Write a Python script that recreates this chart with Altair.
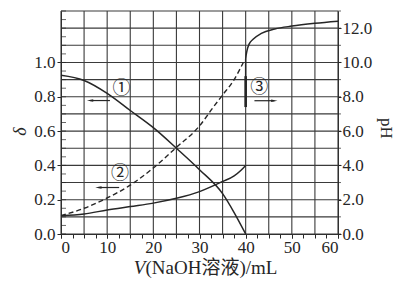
import altair as alt
import pandas as pd

# ---- data ----
# curve ① (δ, left axis, solid)
v_c1 = [0, 5, 10, 15, 20, 25, 30, 35, 37.5, 40]
d_c1 = [0.925, 0.895, 0.82, 0.72, 0.62, 0.50, 0.375, 0.235, 0.125, 0.0]
# curve ② (δ, left axis, dashed)
v_c2 = [0, 5, 10, 15, 20, 25, 30, 33, 35, 37.5, 39.5]
d_c2 = [0.107, 0.15, 0.21, 0.285, 0.385, 0.505, 0.63, 0.74, 0.81, 0.90, 1.0]
# curve ③ (pH, right axis) before the jump
v_ph_lo = [0, 5, 10, 15, 20, 25, 30, 35, 37.5, 39, 40]
ph_lo = [1.07, 1.17, 1.40, 1.60, 1.80, 2.08, 2.47, 3.06, 3.39, 3.72, 4.0]
# curve ③ after the jump
v_ph_hi = [40, 40, 40.3, 40.8, 41.6, 43.4, 46.3, 50, 55, 60]
ph_hi = [7.4, 10.2, 10.7, 11.1, 11.35, 11.7, 11.95, 12.12, 12.28, 12.4]
# thick part of the vertical jump
jump_v = [40]
jump_lo = [7.4]
jump_hi = [9.2]

# annotations
lab_txt = ["①", "②"]
lab_v = [13.1, 12.8]
lab_d = [0.845, 0.35]
arr_v1 = [10.6, 12.6]
arr_v2 = [6.3, 8.1]
arr_d = [0.778, 0.271]
lab3_txt = ["③"]
lab3_v = [42.95]
lab3_ph = [8.5]
arr3_v1 = [41.9]
arr3_v2 = [46.2]
arr3_ph = [7.77]

# grid / tick values
grid_v = list(range(0, 65, 5))
grid_d = [i / 10 for i in range(14)]
x_labels = list(range(0, 70, 10))
x_minor = [i * 2.5 for i in range(25)]
d_labels = [0.0, 0.2, 0.4, 0.6, 0.8, 1.0]
d_minor = [round(i * 0.05, 2) for i in range(27)]
ph_labels = [0, 2, 4, 6, 8, 10, 12]
ph_minor = list(range(0, 14))

FONT = "Liberation Serif"
CJK = "'Liberation Serif', 'Noto Sans CJK SC'"
INK = "#262626"
GRID = "#3a3a3a"

xs = alt.Scale(domain=[0, 60], nice=False, zero=False)
ds = alt.Scale(domain=[0, 1.3], nice=False)
ps = alt.Scale(domain=[0, 13], nice=False)

x_axis = alt.Axis(
    orient="bottom", values=x_labels, grid=False, format="d",
    labelOverlap=False, labelFont=FONT, labelFontSize=17, labelColor=INK,
    labelPadding=1, tickSize=4, tickColor=INK, domainColor=INK,
    title="(NaOH溶液)/mL", titleFont=CJK, titleFontSize=19,
    titleFontWeight="normal", titleColor=INK, titleX=150, titleY=39,
    titleBaseline="alphabetic", titleAlign="center",
)
x_axis_v = alt.Axis(
    orient="bottom", values=x_minor, labels=False, ticks=True, tickSize=4,
    tickColor=INK, domain=False, grid=False,
    title="V", titleFont=FONT, titleFontSize=19, titleFontStyle="italic",
    titleFontWeight="normal", titleColor=INK, titleX=78, titleY=39,
    titleBaseline="alphabetic", titleAlign="center",
)
d_axis = alt.Axis(
    orient="left", values=d_labels, grid=False, format=".1f",
    labelOverlap=False, labelFont=FONT, labelFontSize=17, labelColor=INK,
    labelPadding=2, tickSize=4, tickColor=INK, domainColor=INK,
    title="δ", titleFont=FONT, titleFontSize=18, titleFontStyle="italic",
    titleFontWeight="normal", titleColor=INK, titlePadding=4, titleY=120,
)
p_axis = alt.Axis(
    orient="right", values=ph_labels, grid=False, format=".1f",
    labelOverlap=False, labelSeparation=0, labelFont=FONT, labelFontSize=17,
    labelColor=INK, labelPadding=1, tickSize=3, tickColor=INK, domainColor=INK,
    title="pH", titleFont=FONT, titleFontSize=17, titleFontWeight="normal",
    titleColor=INK, titlePadding=5, titleY=117,
)


def XL(f):
    return alt.X(f, type="quantitative", scale=xs, axis=x_axis)


def YL(f):
    return alt.Y(f, type="quantitative", scale=ds, axis=d_axis)


def XR(f):
    return alt.X(f, type="quantitative", scale=xs, axis=x_axis_v)


def YR(f):
    return alt.Y(f, type="quantitative", scale=ps, axis=p_axis)


# ---- left (δ) layer ----
gv = alt.Chart(pd.DataFrame({"v": grid_v})).mark_rule(color=GRID, strokeWidth=1.1).encode(
    x=XL("v"))
gh = alt.Chart(pd.DataFrame({"d": grid_d})).mark_rule(color=GRID, strokeWidth=1.1).encode(
    y=YL("d"))
dmin = alt.Chart(pd.DataFrame({"d": d_minor, "v": [0] * len(d_minor)})).mark_tick(
    orient="horizontal", color=INK, size=5, thickness=1, xOffset=2.5).encode(
    x=XL("v"), y=YL("d"))
c1 = alt.Chart(pd.DataFrame({"v": v_c1, "d": d_c1})).mark_line(
    color=INK, strokeWidth=1.5, interpolate="monotone").encode(x=XL("v"), y=YL("d"))
c2 = alt.Chart(pd.DataFrame({"v": v_c2, "d": d_c2})).mark_line(
    color=INK, strokeWidth=1.4, strokeDash=[5, 3], interpolate="monotone").encode(
    x=XL("v"), y=YL("d"))
ann = pd.DataFrame({"t": lab_txt, "v": lab_v, "d": lab_d})
labs = alt.Chart(ann).mark_text(font="Noto Sans CJK SC", fontSize=18, color=INK).encode(
    x=XL("v"), y=YL("d"), text="t:N")
arr = pd.DataFrame({"v1": arr_v1, "v2": arr_v2, "d": arr_d})
arr_line = alt.Chart(arr).mark_rule(color=INK, strokeWidth=1.2).encode(
    x=XL("v1"), x2="v2:Q", y=YL("d"))
arr_head = alt.Chart(arr).mark_point(
    shape="M-1,0L1,-0.4L1,0.4Z", filled=True, color=INK, opacity=1, size=40).encode(
    x=XL("v2"), y=YL("d"))

left = alt.layer(gv, gh, dmin, c1, c2, labs, arr_line, arr_head)

# ---- right (pH) layer ----
p_lo = alt.Chart(pd.DataFrame({"v": v_ph_lo, "p": ph_lo})).mark_line(
    color=INK, strokeWidth=1.5, interpolate="monotone").encode(x=XR("v"), y=YR("p"))
p_hi = alt.Chart(pd.DataFrame({"v": v_ph_hi, "p": ph_hi})).mark_line(
    color=INK, strokeWidth=1.5, interpolate="monotone").encode(x=XR("v"), y=YR("p"))
pmin = alt.Chart(pd.DataFrame({"p": ph_minor, "v": [60] * len(ph_minor)})).mark_tick(
    orient="horizontal", color=INK, size=3, thickness=1, xOffset=1.5).encode(
    x=XR("v"), y=YR("p"))
jump = alt.Chart(pd.DataFrame({"v": jump_v, "lo": jump_lo, "hi": jump_hi})).mark_rule(
    color=INK, strokeWidth=2.6).encode(x=XR("v"), y=YR("lo"), y2="hi:Q")
ann3 = pd.DataFrame({"t": lab3_txt, "v": lab3_v, "p": lab3_ph})
lab3 = alt.Chart(ann3).mark_text(font="Noto Sans CJK SC", fontSize=18, color=INK).encode(
    x=XR("v"), y=YR("p"), text="t:N")
arr3 = pd.DataFrame({"v1": arr3_v1, "v2": arr3_v2, "p": arr3_ph})
arr3_line = alt.Chart(arr3).mark_rule(color=INK, strokeWidth=1.2).encode(
    x=XR("v1"), x2="v2:Q", y=YR("p"))
arr3_head = alt.Chart(arr3).mark_point(
    shape="M1,0L-1,-0.4L-1,0.4Z", filled=True, color=INK, opacity=1, size=40).encode(
    x=XR("v2"), y=YR("p"))

right = alt.layer(p_lo, p_hi, pmin, jump, lab3, arr3_line, arr3_head)

chart = alt.layer(left, right).resolve_scale(y="independent").resolve_axis(
    x="independent").properties(
    width=277, height=223,
    autosize=alt.AutoSizeParams(type="none"),
    padding={"left": 61, "top": 11, "right": 63, "bottom": 47},
    background="white",
).configure_view(stroke=None).configure_axis(labelOverlap=False)

chart.save("out.html", embed_options={"renderer": "svg", "actions": False})
